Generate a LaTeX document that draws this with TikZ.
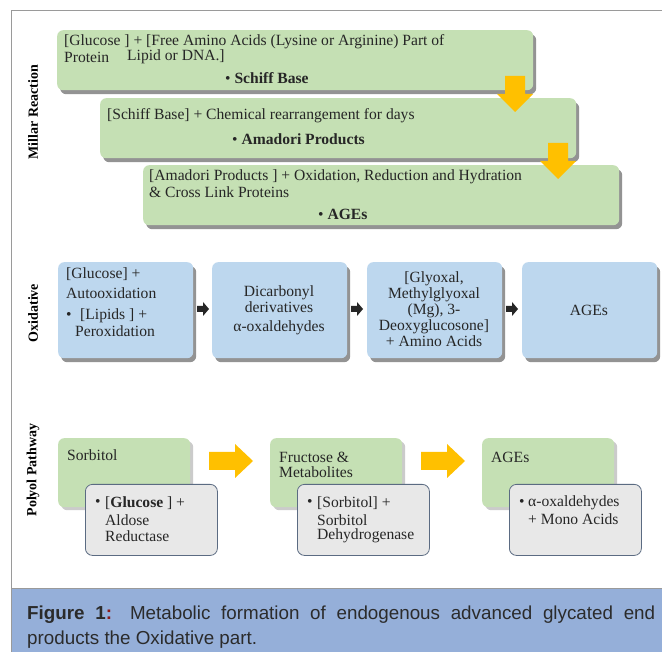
\documentclass[tikz,border=0pt]{standalone}
\usepackage{fontspec}
\setmainfont{Liberation Serif}
\newfontfamily\capfont{Liberation Sans}
\usetikzlibrary{shadows}
\definecolor{mgreen}{HTML}{C5E0B4}
\definecolor{oblue}{HTML}{BDD7EE}
\definecolor{pgray}{HTML}{E8E8E8}
\definecolor{slate}{HTML}{5B6B82}
\definecolor{capblue}{HTML}{95AFD9}
\definecolor{ayellow}{HTML}{FFC000}
\definecolor{framegray}{HTML}{9A9A9A}
\definecolor{captext}{HTML}{2B2B2B}
\definecolor{colonred}{HTML}{8B1A1A}
\begin{document}
\begin{tikzpicture}[x=1pt,y=-1pt,
  mbox/.style={fill=mgreen, rounded corners=6pt, anchor=north west, inner sep=0pt,
    minimum width=476pt, minimum height=60pt,
    drop shadow={shadow xshift=3pt, shadow yshift=-4pt, fill=black!70, opacity=0.6}},
  obox/.style={fill=oblue, rounded corners=6pt, anchor=north west, inner sep=0pt,
    minimum width=135pt, minimum height=96pt,
    drop shadow={shadow xshift=3pt, shadow yshift=-4pt, fill=black!70, opacity=0.6}},
  gbox/.style={fill=mgreen, rounded corners=6pt, anchor=north west, inner sep=0pt,
    minimum width=132pt, minimum height=69pt,
    drop shadow={shadow xshift=3pt, shadow yshift=-3pt, fill=black!40, opacity=0.5}},
  ybox/.style={fill=pgray, draw=slate, line width=0.8pt, rounded corners=7pt, anchor=north west,
    inner sep=0pt, minimum width=132pt, minimum height=71pt},
  txt/.style={font=\fontsize{15.6}{16}\selectfont, text=black!85, inner sep=0pt},
  lbl/.style={font=\fontsize{14}{14}\selectfont\bfseries, text=black, inner sep=0pt, rotate=90},
  yarrow/.style={fill=ayellow},
  karrow/.style={fill=black!85}
]
\useasboundingbox (0,0) rectangle (662,652);
\fill[white] (0,0) rectangle (662,652);
% frame
\draw[framegray, line width=1pt] (11.5,652) -- (11.5,10.5) -- (662,10.5);
\draw[framegray, line width=1pt] (11.5,588) -- (662,588);
\fill[capblue] (12,588.5) rectangle (662,652);

% ---- Millar reaction ----
\node[lbl] (lm) at (33,112) {Millar Reaction};
\node[mbox] (m1) at (57,30) {};
\node[mbox] (m2) at (100,98) {};
\node[mbox] (m3) at (143,165) {};
\fill[yarrow] (505,76) -- (525,76) -- (525,94) -- (533,94) -- (515,112) -- (497,94) -- (505,94) -- cycle;
\fill[yarrow] (548,143) -- (568,143) -- (568,161) -- (576,161) -- (558,179) -- (540,161) -- (548,161) -- cycle;

\node[txt, anchor=west] (m1a) at (64,42) {[Glucose ] + [Free Amino Acids (Lysine or Arginine) Part of};
\node[txt, anchor=west] (m1b) at (64,57) {Protein};
\node[txt, anchor=west] (m1c) at (127,57) {Lipid or DNA.]};
\node[txt, anchor=west] (m1d) at (225,78) {\textbullet\ \textbf{Schiff Base}};
\node[txt, anchor=west] (m2a) at (107,116) {[Schiff Base] + Chemical rearrangement for days};
\node[txt, anchor=west] (m2b) at (232,139) {\textbullet\ \textbf{Amadori Products}};
\node[txt, anchor=west] (m3a) at (149,177) {[Amadori Products ] + Oxidation, Reduction and Hydration};
\node[txt, anchor=west] (m3b) at (149,192) {\& Cross Link Proteins};
\node[txt, anchor=west] (m3c) at (318,214) {\textbullet\ \textbf{AGEs}};

% ---- Oxidative ----
\node[lbl] (lo) at (33,313) {Oxidative};
\node[obox] (o1) at (58,262) {};
\node[obox] (o2) at (212,262) {};
\node[obox] (o3) at (367,262) {};
\node[obox] (o4) at (522,262) {};
\foreach \ax in {197,351,506}{
  \fill[karrow] (\ax,306) -- (\ax+6,306) -- (\ax+6,302) -- (\ax+12,309) -- (\ax+6,316) -- (\ax+6,312) -- (\ax,312) -- cycle;
}
\node[txt, anchor=west] (o1a) at (66,274) {[Glucose] +};
\node[txt, anchor=west] (o1b) at (66,293) {Autooxidation};
\node[txt, anchor=west] (o1c) at (66,316) {\textbullet};
\node[txt, anchor=west] (o1d) at (80,316) {[Lipids ] +};
\node[txt, anchor=west] (o1e) at (75,331) {Peroxidation};
\node[txt, align=center] (o2a) at (279,299) {Dicarbonyl\\derivatives};
\node[txt] (o2b) at (279,328) {α-oxaldehydes};
\node[txt, align=center] (o3a) at (434,309) {[Glyoxal,\\Methylglyoxal\\(Mg), 3-\\Deoxyglucosone]\\+ Amino Acids};
\node[txt] (o4a) at (589,310) {AGEs};

% ---- Polyol pathway ----
\node[lbl] (lp) at (33,470) {Polyol Pathway};
\node[gbox] (p1) at (58,438) {};
\node[gbox] (p2) at (270,438) {};
\node[gbox] (p3) at (482,438) {};
\node[ybox] (q1) at (85,484) {};
\node[ybox] (q2) at (297,484) {};
\node[ybox] (q3) at (509,484) {};
\foreach \ax in {209,421}{
  \fill[yarrow] (\ax,452) -- (\ax+26,452) -- (\ax+26,444) -- (\ax+44,461) -- (\ax+26,478) -- (\ax+26,470) -- (\ax,470) -- cycle;
}
\node[txt, anchor=west] (p1a) at (67,455) {Sorbitol};
\node[txt, anchor=west] (p2a) at (279,457) {Fructose \&};
\node[txt, anchor=west] (p2b) at (279,472) {Metabolites};
\node[txt, anchor=west] (p3a) at (491,457) {AGEs};
\node[txt, anchor=west] (q1a) at (95,503) {\textbullet};
\node[txt, anchor=west] (q1b) at (105,503) {[\textbf{Glucose} ] +};
\node[txt, anchor=west] (q1c) at (105,520) {Aldose};
\node[txt, anchor=west] (q1d) at (105,536) {Reductase};
\node[txt, anchor=west] (q2a) at (307,503) {\textbullet};
\node[txt, anchor=west] (q2b) at (317,503) {[Sorbitol] +};
\node[txt, anchor=west] (q2c) at (317,520) {Sorbitol};
\node[txt, anchor=west] (q2d) at (317,536) {Dehydrogenase};
\node[txt, anchor=west] (q3a) at (519,503) {\textbullet};
\node[txt, anchor=west] (q3b) at (528,503) {α-oxaldehydes};
\node[txt, anchor=west] (q3c) at (528,519) {+ Mono Acids};

% ---- caption ----
\node[anchor=base west, inner sep=0pt, text=captext, font=\capfont\fontsize{18.8}{24}\selectfont] (cap1) at (27,619)
  {\makebox[628pt][s]{\textbf{Figure 1\textcolor{colonred}{:}} Metabolic formation of endogenous advanced glycated end}};
\node[anchor=base west, inner sep=0pt, text=captext, font=\capfont\fontsize{18.8}{24}\selectfont] (cap2) at (27,644)
  {products the Oxidative part.};
\end{tikzpicture}
\end{document}
